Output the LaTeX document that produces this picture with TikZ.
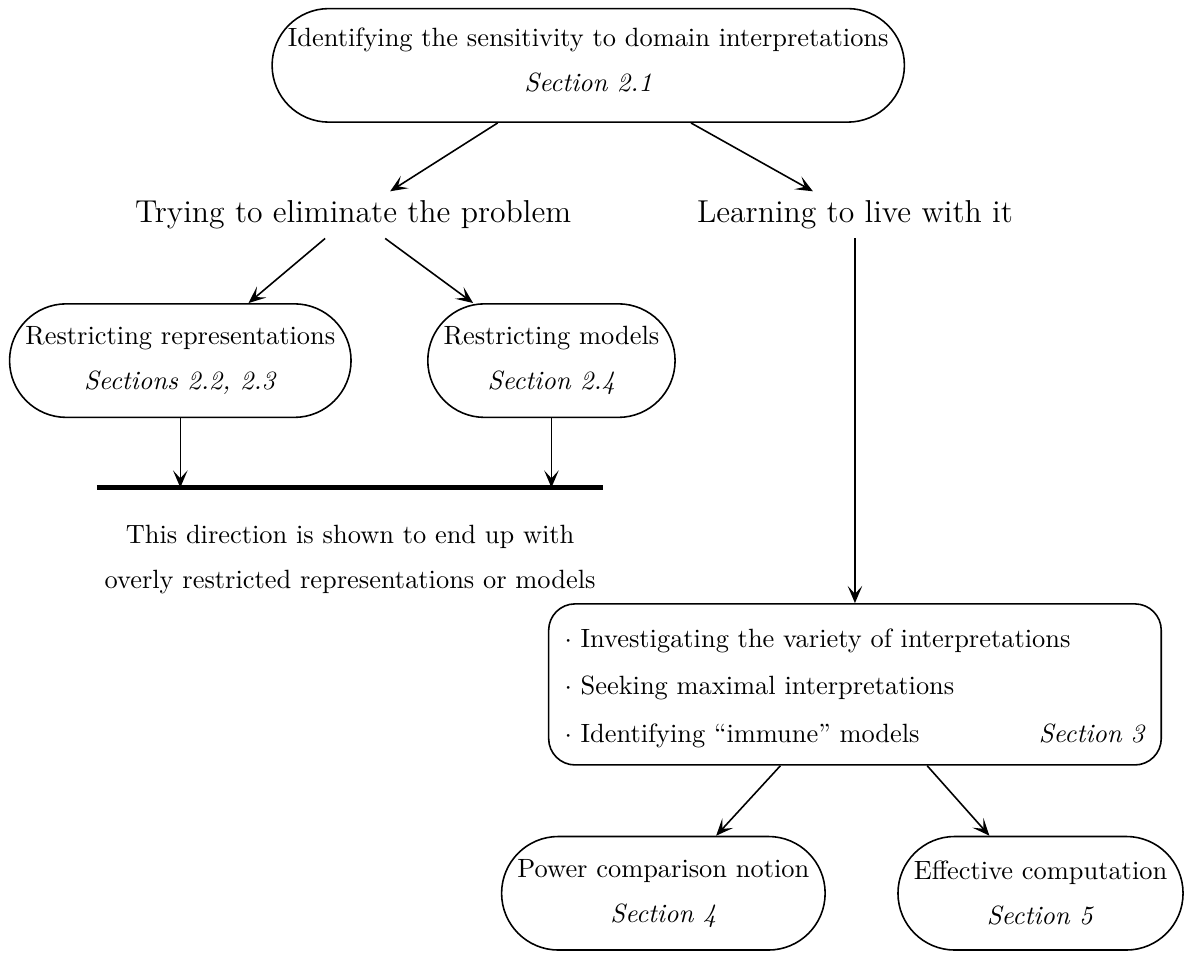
\documentclass[tikz,border=0pt]{standalone}
\usepackage{amsmath, amssymb}
\usepackage{tikz}
\tikzstyle{topic}=[rectangle, draw, semithick, rounded corners=21.5pt, minimum height=43pt, inner xsep=6pt, align=center]
\newcommand{\topic}{\node[topic]}
\usetikzlibrary{arrows.meta,calc}

\begin{document}
\begin{tikzpicture}
	\tikzstyle{flow}=[-{Stealth[length=6.5pt, width=5.5pt, inset=3pt]}, semithick]
	\tikzstyle{wide}=[rectangle, draw, semithick, rounded corners=10pt, minimum height=61pt, inner xsep=6pt, text width=220pt, align=left]
	\useasboundingbox (0,0) rectangle (15.80,12.69);
	% Probleme de depart
	\topic (top) at (7.83,11.82) {Identifying the sensitivity to domain interpretations\\[5pt]\textit{Section 2.1}\rule[-4pt]{0pt}{4pt}};
	\node (trying) at (4.70,9.83) {\large Trying to eliminate the problem};
	\node (learning) at (11.38,9.83) {\large Learning to live with it};
	% Premiere direction
	\topic (rr) at (2.40,7.89) {Restricting representations\\[5pt]\textit{Sections 2.2, 2.3}};
	\topic (rm) at (7.34,7.89) {Restricting models\\[5pt]\textit{Section 2.4}};
	\coordinate (bl) at (1.29,6.20);
	\coordinate (br) at (8.03,6.20);
	\draw[line width=1.6pt] (bl) -- (br);
	\node[align=center] (dead) at (4.66,5.24) {This direction is shown to end up with\\[5pt]overly restricted representations or models};
	% Seconde direction
	\node[wide] (sec3) at (11.38,3.58) {\rule{0pt}{10pt}$\cdot$ Investigating the variety of interpretations\\[6pt]$\cdot$ Seeking maximal interpretations\\[6pt]$\cdot$ Identifying ``immune'' models\hfill\textit{Section 3}};
	\topic (power) at (8.83,0.80) {Power comparison notion\\[5pt]\textit{Section 4}};
	\topic (eff) at (13.85,0.80) {Effective computation\\[5pt]\textit{Section 5}};

	\path
	(top) edge[flow] (trying)
	(top) edge[flow] (learning)
	(trying) edge[flow] (rr)
	(trying) edge[flow] (rm)
	(rr.south) edge[flow] (rr.south |- bl)
	(rm.south) edge[flow] (rm.south |- bl)
	(learning) edge[flow] (sec3)
	(sec3) edge[flow] (power)
	(sec3) edge[flow] (eff)
	;
\end{tikzpicture}
\end{document}
